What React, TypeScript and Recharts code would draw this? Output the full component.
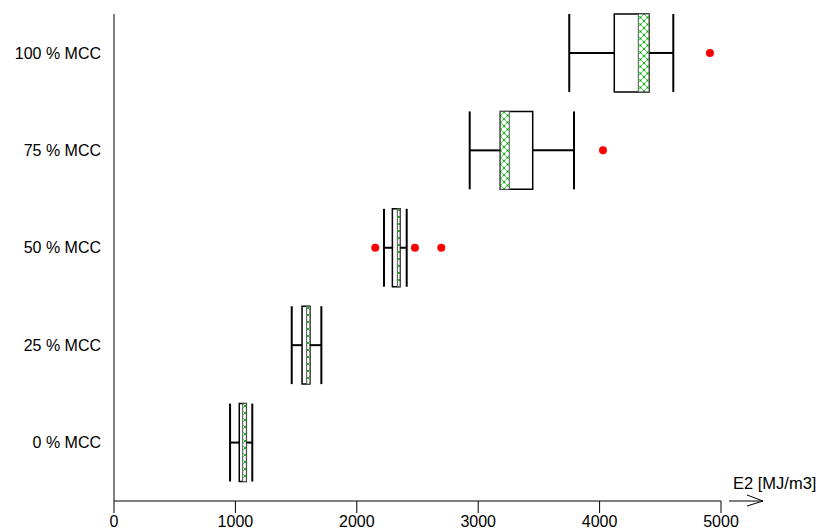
import {
  ScatterChart,
  Scatter,
  XAxis,
  YAxis,
  ReferenceArea,
  ReferenceLine,
} from 'recharts';

const categories = ['0 % MCC', '25 % MCC', '50 % MCC', '75 % MCC', '100 % MCC'];
const whiskerLow = [956, 1464, 2224, 2930, 3750];
const q1 = [1032, 1549, 2293, 3182, 4121];
const hatchLow = [1060, 1587, 2334, 3182, 4319];
const hatchHigh = [1090, 1614, 2356, 3256, 4407];
const q3 = [1090, 1614, 2356, 3449, 4407];
const whiskerHigh = [1139, 1708, 2411, 3789, 4607];
const outlierValues = [2152, 2479, 2696, 4028, 4909];
const outlierGroups = [2, 2, 2, 3, 4];
const xTicks = [0, 1000, 2000, 3000, 4000, 5000];

const outliers = outlierValues.map((x, i) => ({ x, y: outlierGroups[i] }));
const HALF = 0.4;

const AxisTitle = ({ viewBox }: any) => {
  const x = viewBox.x + viewBox.width;
  const y = viewBox.y;
  return (
    <g>
      <text x={x + 12} y={y - 12} fontSize={16.5} fill="#000">
        E2 [MJ/m3]
      </text>
      <path
        d={`M${x + 8},${y} L${x + 42},${y} M${x + 26},${y - 6} L${x + 42},${y} L${x + 26},${y + 5}`}
        stroke="#000"
        strokeWidth={1}
        fill="none"
      />
    </g>
  );
};

export default function App() {
  return (
    <div style={{ position: 'absolute', left: 0, top: 0, fontFamily: 'Liberation Sans, Arial, sans-serif' }}>
      <svg width={0} height={0} style={{ position: 'absolute' }}>
        <defs>
          <pattern id="hatch" width={7} height={7} patternUnits="userSpaceOnUse">
            <rect width={7} height={7} fill="#fff" />
            <path d="M0,0 L7,7 M7,0 L0,7" stroke="#33ee33" strokeWidth={1} />
            <circle cx={3.5} cy={3.5} r={0.9} fill="#119911" />
            <circle cx={0} cy={0} r={0.9} fill="#119911" />
            <circle cx={7} cy={0} r={0.9} fill="#119911" />
            <circle cx={0} cy={7} r={0.9} fill="#119911" />
            <circle cx={7} cy={7} r={0.9} fill="#119911" />
          </pattern>
        </defs>
      </svg>
      <ScatterChart width={820} height={532} margin={{ top: 14, right: 99, bottom: 0, left: 0 }}>
        <XAxis
          type="number"
          dataKey="x"
          domain={[0, 5000]}
          ticks={xTicks}
          allowDataOverflow
          stroke="#000"
          tickSize={12}
          tickMargin={3}
          height={31}
          tick={{ fontSize: 16, fill: '#000' }}
          label={<AxisTitle />}
        />
        <YAxis
          type="number"
          dataKey="y"
          domain={[-0.6, 4.4]}
          ticks={[0, 1, 2, 3, 4]}
          allowDataOverflow
          width={114}
          stroke="#000"
          tickLine={false}
          tickSize={0}
          tickMargin={13}
          tick={{ fontSize: 16, fill: '#000' }}
          tickFormatter={(v: number) => categories[v] ?? ''}
        />
        {categories.map((_, i) => (
          <ReferenceArea
            key={`box-${i}`}
            x1={q1[i]}
            x2={q3[i]}
            y1={i - HALF}
            y2={i + HALF}
            fill="#fff"
            fillOpacity={1}
            stroke="#000"
            strokeWidth={1.5}
          />
        ))}
        {categories.map((_, i) => (
          <ReferenceArea
            key={`hatch-${i}`}
            x1={hatchLow[i]}
            x2={hatchHigh[i]}
            y1={i - HALF}
            y2={i + HALF}
            fill="url(#hatch)"
            fillOpacity={1}
            stroke="#555"
            strokeWidth={1}
          />
        ))}
        {categories.map((_, i) => (
          <ReferenceLine
            key={`wl-${i}`}
            segment={[{ x: whiskerLow[i], y: i }, { x: q1[i], y: i }]}
            stroke="#000"
            strokeWidth={2}
          />
        ))}
        {categories.map((_, i) => (
          <ReferenceLine
            key={`wh-${i}`}
            segment={[{ x: q3[i], y: i }, { x: whiskerHigh[i], y: i }]}
            stroke="#000"
            strokeWidth={2}
          />
        ))}
        {categories.map((_, i) => (
          <ReferenceLine
            key={`cl-${i}`}
            segment={[{ x: whiskerLow[i], y: i - HALF }, { x: whiskerLow[i], y: i + HALF }]}
            stroke="#000"
            strokeWidth={2}
          />
        ))}
        {categories.map((_, i) => (
          <ReferenceLine
            key={`ch-${i}`}
            segment={[{ x: whiskerHigh[i], y: i - HALF }, { x: whiskerHigh[i], y: i + HALF }]}
            stroke="#000"
            strokeWidth={2}
          />
        ))}
        <Scatter
          data={outliers}
          fill="#ff0000"
          isAnimationActive={false}
          shape={(p: any) => <circle cx={p.cx} cy={p.cy} r={4} fill="#ff0000" />}
        />
      </ScatterChart>
    </div>
  );
}
